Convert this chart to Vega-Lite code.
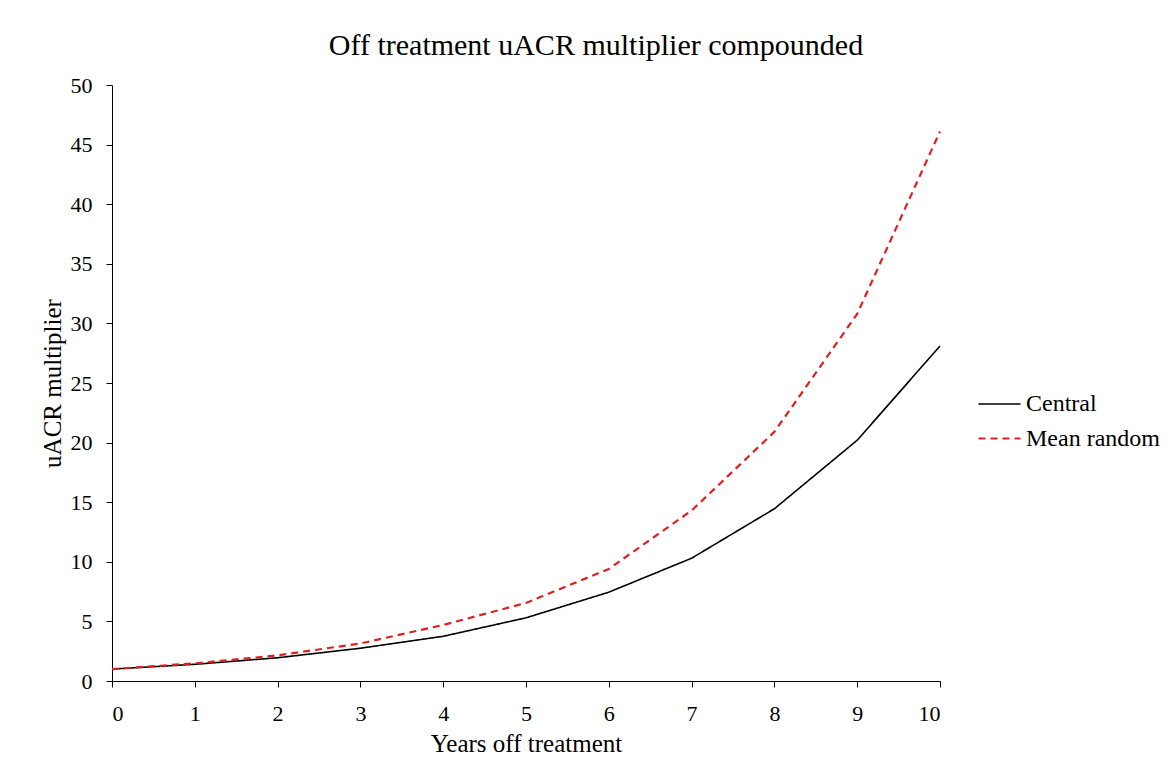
{
  "$schema": "https://vega.github.io/schema/vega-lite/v6.json",
  "width": 828,
  "height": 596,
  "autosize": {"type": "none"},
  "padding": {"left": 112, "top": 85, "right": 231, "bottom": 88},
  "background": "white",
  "title": {
    "text": "Off treatment uACR multiplier compounded",
    "font": "Liberation Serif",
    "fontSize": 30,
    "fontWeight": "normal",
    "color": "black",
    "anchor": "middle",
    "offset": 13,
    "dx": 70
  },
  "data": {
    "values": [
      {"year": 0, "series": "Central", "value": 1.0},
      {"year": 1, "series": "Central", "value": 1.4},
      {"year": 2, "series": "Central", "value": 1.95},
      {"year": 3, "series": "Central", "value": 2.75},
      {"year": 4, "series": "Central", "value": 3.75},
      {"year": 5, "series": "Central", "value": 5.3},
      {"year": 6, "series": "Central", "value": 7.45},
      {"year": 7, "series": "Central", "value": 10.3},
      {"year": 8, "series": "Central", "value": 14.45},
      {"year": 9, "series": "Central", "value": 20.2},
      {"year": 10, "series": "Central", "value": 28.1},
      {"year": 0, "series": "Mean random", "value": 1.0},
      {"year": 1, "series": "Mean random", "value": 1.48},
      {"year": 2, "series": "Mean random", "value": 2.15},
      {"year": 3, "series": "Mean random", "value": 3.15},
      {"year": 4, "series": "Mean random", "value": 4.7},
      {"year": 5, "series": "Mean random", "value": 6.55},
      {"year": 6, "series": "Mean random", "value": 9.4},
      {"year": 7, "series": "Mean random", "value": 14.3},
      {"year": 8, "series": "Mean random", "value": 20.9},
      {"year": 9, "series": "Mean random", "value": 30.8},
      {"year": 10, "series": "Mean random", "value": 46.1}
    ]
  },
  "mark": {"type": "line", "strokeCap": "butt"},
  "encoding": {
    "x": {
      "field": "year",
      "type": "quantitative",
      "scale": {"domain": [0, 10], "nice": false},
      "axis": {
        "title": "Years off treatment",
        "values": [0, 1, 2, 3, 4, 5, 6, 7, 8, 9, 10],
        "grid": false,
        "labelFont": "Liberation Serif",
        "titleFont": "Liberation Serif",
        "labelPadding": 16,
        "titlePadding": 7
      }
    },
    "y": {
      "field": "value",
      "type": "quantitative",
      "scale": {"domain": [0, 50], "nice": false},
      "axis": {
        "title": "uACR multiplier",
        "values": [0, 5, 10, 15, 20, 25, 30, 35, 40, 45, 50],
        "grid": false,
        "labelFont": "Liberation Serif",
        "titleFont": "Liberation Serif",
        "labelPadding": 14,
        "titlePadding": 5
      }
    },
    "color": {
      "field": "series",
      "type": "nominal",
      "scale": {"domain": ["Central", "Mean random"], "range": ["#000000", "#e02020"]},
      "legend": {
        "title": null,
        "orient": "none",
        "legendX": 865,
        "legendY": 297,
        "symbolType": "stroke",
        "symbolSize": 1764,
        "symbolStrokeWidth": 2,
        "labelFont": "Liberation Serif",
        "labelFontSize": 24,
        "labelColor": "black",
        "labelOffset": 4,
        "rowPadding": -4
      }
    },
    "strokeDash": {
      "field": "series",
      "type": "nominal",
      "scale": {"domain": ["Central", "Mean random"], "range": [[1, 0], [7, 5]]},
      "legend": null
    },
    "strokeWidth": {
      "field": "series",
      "type": "nominal",
      "scale": {"domain": ["Central", "Mean random"], "range": [1.6, 2.2]},
      "legend": null
    }
  },
  "config": {
    "font": "Liberation Serif",
    "style": {
      "guide-label": {"font": "Liberation Serif"},
      "guide-title": {"font": "Liberation Serif"},
      "group-title": {"font": "Liberation Serif"}
    },
    "view": {"stroke": null},
    "axis": {
      "labelFont": "Liberation Serif",
      "labelFontSize": 22,
      "labelColor": "black",
      "titleFont": "Liberation Serif",
      "titleFontSize": 25,
      "titleFontWeight": "normal",
      "titleColor": "black",
      "domainColor": "black",
      "domainWidth": 1,
      "tickColor": "black",
      "tickSize": 6
    }
  }
}
